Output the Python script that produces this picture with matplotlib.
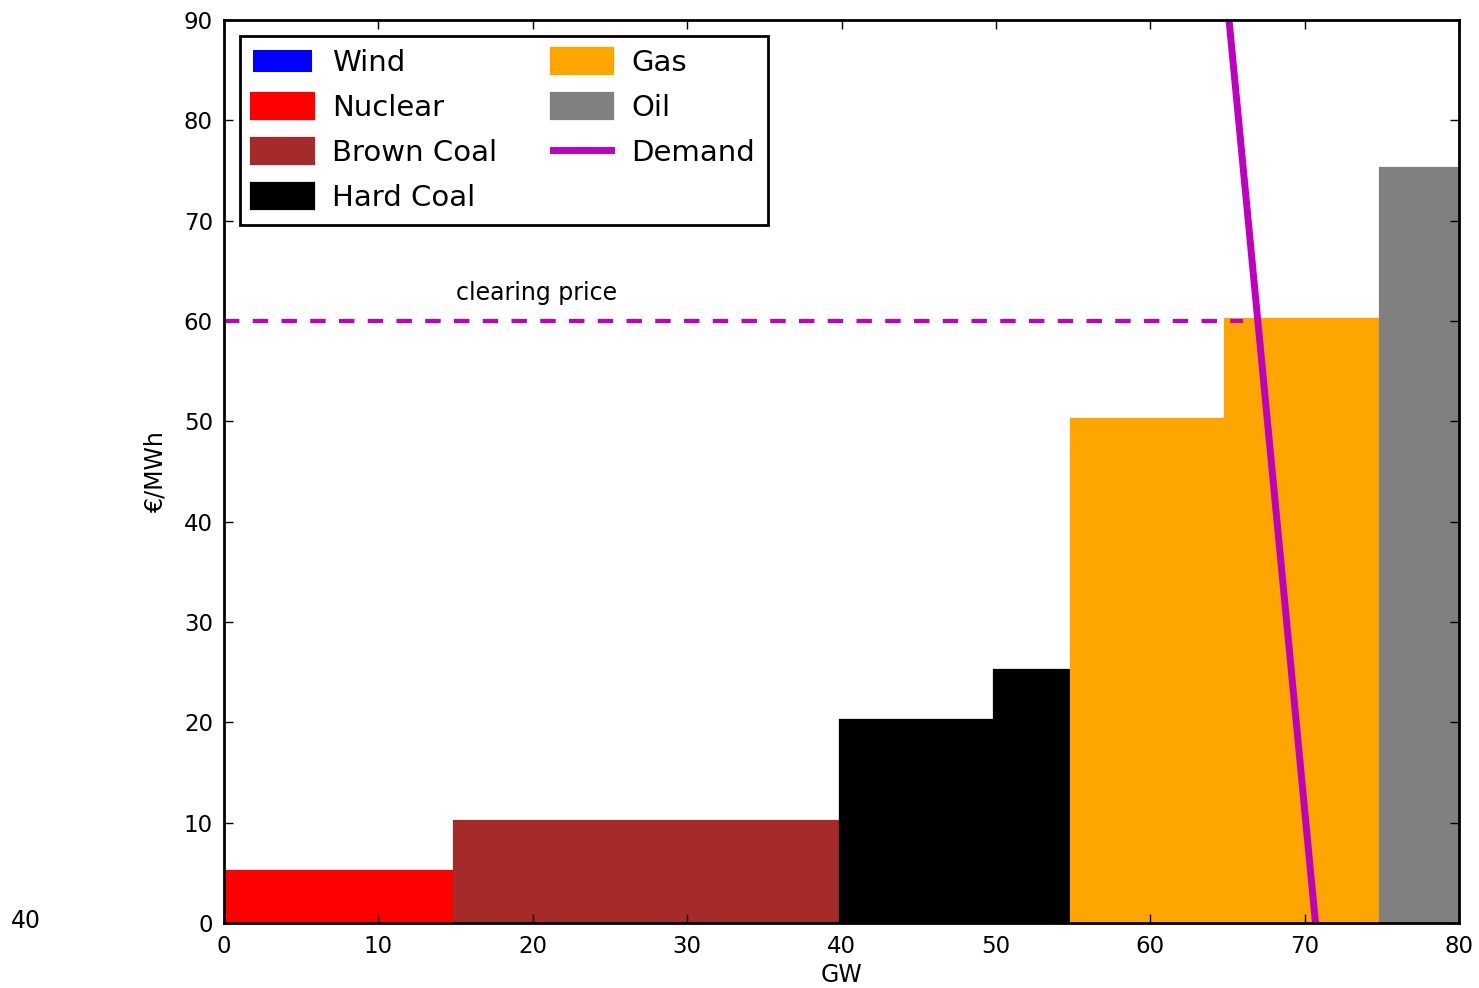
import numpy as np
import matplotlib
matplotlib.use("Agg")
import matplotlib.pyplot as plt

# merit order blocks
techs = ["Wind", "Nuclear", "Brown Coal", "Hard Coal", "Hard Coal", "Gas", "Gas", "Oil"]
capacity = [0, 15, 25, 10, 5, 10, 10, 10]      # GW
price = [0, 5, 10, 20, 25, 50, 60, 75]          # EUR/MWh
colors = {"Wind": "blue", "Nuclear": "red", "Brown Coal": "brown",
          "Hard Coal": "black", "Gas": "orange", "Oil": "grey"}

demand_gw = [70.7, 65.1]
demand_price = [0, 90]
clearing_price = 60
clearing_x = [0, 66]

fig = plt.figure(figsize=(14.79, 9.88), dpi=100)
ax = fig.add_axes([0.1515, 0.0658, 0.835, 0.914])

left = np.concatenate([[0], np.cumsum(capacity)[:-1]])
seen = set()
for x0, w, p, t in zip(left, capacity, price, techs):
    lab = t if t not in seen else None
    seen.add(t)
    ax.bar(x0, p, width=w, align="edge", color=colors[t], edgecolor=colors[t],
           linewidth=4.5 if w > 0 else 0, label=lab)

ax.plot(demand_gw, demand_price, color=(0.75, 0, 0.75), lw=5, label="Demand")
ax.plot(clearing_x, [clearing_price] * 2, color=(0.75, 0, 0.75), lw=3,
        dashes=[3.7, 3.2])
ax.text(15, 61.6, "clearing price", fontsize=17, ha="left", va="bottom")
ax.text(-13.8, 0.2, "40", fontsize=17, ha="left", va="center")

ax.set_xlim(0, 80)
ax.set_ylim(0, 90)
ax.set_xticks(range(0, 81, 10))
ax.set_yticks(range(0, 91, 10))
ax.tick_params(direction="in", length=6.5, width=1, top=True, right=True,
               labelsize=16.5)
ax.tick_params(axis="x", pad=9)
ax.tick_params(axis="y", pad=8)
for s in ax.spines.values():
    s.set_linewidth(2)
ax.set_xlabel("GW", fontsize=17, labelpad=3)
ax.set_ylabel("€/MWh", fontsize=17, labelpad=12)

h, l = ax.get_legend_handles_labels()
order = ["Wind", "Nuclear", "Brown Coal", "Hard Coal", "Gas", "Oil", "Demand"]
hd = dict(zip(l, h))
leg = ax.legend([hd[k] for k in order], order, ncol=2, loc="upper left",
                fontsize=21, fancybox=False, framealpha=1, edgecolor="black",
                handlelength=2.0, handleheight=0.8, columnspacing=1.9,
                labelspacing=0.58, borderaxespad=0.55, borderpad=0.45,
                handletextpad=0.7)
leg.get_frame().set_linewidth(2)

fig.savefig("out.png", dpi=100, facecolor="white")
